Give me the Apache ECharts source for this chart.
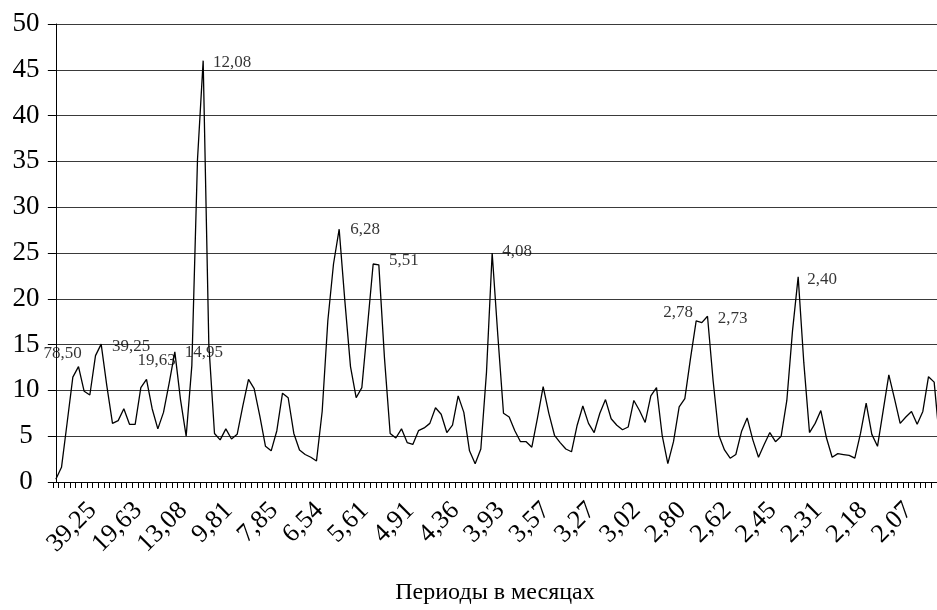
<!DOCTYPE html>
<html>
<head>
<meta charset="utf-8">
<script src="https://cdn.jsdelivr.net/npm/echarts@6/dist/echarts.min.js"></script>
<style>
  html, body { margin: 0; padding: 0; background: #fff; }
  #chart { width: 937px; height: 610px; }
</style>
</head>
<body>
<div id="chart"></div>
<script>
// Harmonic index k (period = 314 / k months); the axis shows k = 0 .. 155
const visibleHarmonics = 156;
const harmonics = Array.from({ length: visibleHarmonics }, (_, k) => String(k));

// Periodogram intensity for k = 0 .. 156 (the last one lies just past the right edge)
const intensity = [
  0.3, 1.6, 6.5, 11.45, 12.6, 9.9, 9.5, 13.8, 15.05, 10.5,
  6.4, 6.7, 8.0, 6.3, 6.3, 10.3, 11.2, 8.0, 5.8, 7.6,
  10.8, 14.2, 9.0, 5.0, 12.7, 35.2, 46.0, 15.0, 5.3, 4.6,
  5.8, 4.7, 5.2, 8.3, 11.2, 10.2, 7.2, 3.9, 3.4, 5.6,
  9.7, 9.2, 5.3, 3.5, 3.0, 2.7, 2.3, 7.7, 17.6, 23.8,
  27.6, 19.8, 12.6, 9.2, 10.3, 17.0, 23.8, 23.7, 13.5, 5.3,
  4.8, 5.8, 4.3, 4.1, 5.6, 5.9, 6.4, 8.1, 7.4, 5.4,
  6.2, 9.4, 7.6, 3.4, 2.0, 3.6, 12.0, 25.0, 16.0, 7.5,
  7.1, 5.6, 4.4, 4.4, 3.8, 7.0, 10.4, 7.5, 5.1, 4.3,
  3.6, 3.3, 6.2, 8.3, 6.4, 5.4, 7.5, 9.0, 6.9, 6.2,
  5.7, 6.0, 8.9, 7.8, 6.5, 9.4, 10.3, 5.1, 2.0, 4.4,
  8.2, 9.1, 13.5, 17.6, 17.4, 18.1, 11.0, 5.1, 3.5, 2.6,
  3.0, 5.5, 7.0, 4.6, 2.7, 4.1, 5.4, 4.4, 5.0, 8.9,
  16.5, 22.4, 13.0, 5.4, 6.4, 7.8, 4.8, 2.7, 3.1, 3.0,
  2.9, 2.6, 5.3, 8.6, 5.2, 3.9, 7.8, 11.7, 9.1, 6.4,
  7.1, 7.7, 6.3, 7.7, 11.5, 10.9, 4.2
];

// Axis tick labels (periods in months), one for every 8th harmonic starting at k = 8
const tickLabels = [
  '39,25', '19,63', '13,08', '9,81', '7,85', '6,54', '5,61', '4,91', '4,36', '3,93',
  '3,57', '3,27', '3,02', '2,80', '2,62', '2,45', '2,31', '2,18', '2,07'
];
const tickStep = 8;

// Annotated peaks: harmonic index and the period written next to it
const peakIndex = [4, 8, 16, 21, 26, 50, 57, 77, 113, 115, 131];
const peakText = ['78,50', '39,25', '19,63', '14,95', '12,08', '6,28', '5,51', '4,08', '2,78', '2,73', '2,40'];

// Label placement relative to its point, in pixels
const peakLabelOffset = [
  [-16, -13], [30, 2], [10, -19], [29, 1], [29, 2], [26, 0],
  [25, -4], [25, -1], [-18, -8], [25, 2], [24, 3]
];

const serif = '"Liberation Serif", "Times New Roman", serif';

const chart = echarts.init(document.getElementById('chart'), null, { renderer: 'canvas' });

chart.setOption({
  animation: false,
  backgroundColor: '#ffffff',
  grid: { left: 53, right: 0, top: 24, bottom: 126.7, containLabel: false },
  xAxis: [
    {
      // visible category axis: one tick per harmonic, a period label every 8th
      type: 'category',
      data: harmonics,
      boundaryGap: true,
      name: 'Периоды в месяцах',
      nameLocation: 'middle',
      nameGap: 99,
      nameTextStyle: { fontFamily: serif, fontSize: 24, color: '#000' },
      axisLine: { show: true, lineStyle: { color: '#000', width: 1 } },
      axisTick: { show: true, interval: 0, length: 6, inside: false, alignWithLabel: false, lineStyle: { color: '#000', width: 1 } },
      axisLabel: {
        interval: (idx) => idx > 0 && idx % tickStep === 0,
        formatter: (val, idx) => (idx > 0 && idx % tickStep === 0) ? (tickLabels[idx / tickStep - 1] || '') : '',
        rotate: 45,
        margin: 16,
        padding: [0, 12, 0, 0],
        fontFamily: serif,
        fontSize: 26,
        color: '#000'
      },
      splitLine: { show: false }
    },
    {
      // hidden numeric twin of the category axis, so the curve can run past the last category
      type: 'value',
      min: -0.5,
      max: visibleHarmonics - 0.5,
      show: false
    }
  ],
  yAxis: {
    type: 'value',
    min: 0,
    max: 50,
    interval: 5,
    axisLine: { show: true, lineStyle: { color: '#000', width: 1 } },
    axisTick: { show: true, length: 8, inside: false, lineStyle: { color: '#000', width: 1 } },
    axisLabel: { margin: 27, align: 'center', fontFamily: serif, fontSize: 27, color: '#000' },
    splitLine: { show: true, lineStyle: { color: '#3a3a3a', width: 1 } }
  },
  series: [
    {
      type: 'line',
      xAxisIndex: 1,
      data: intensity.map((v, k) => [k, v]),
      showSymbol: false,
      symbol: 'none',
      clip: true,
      lineStyle: { color: '#000', width: 1.3 },
      z: 3
    },
    {
      type: 'scatter',
      xAxisIndex: 1,
      data: peakIndex.map((k, i) => ({
        value: [k, intensity[k]],
        label: {
          show: true,
          formatter: peakText[i],
          position: 'inside',
          offset: peakLabelOffset[i],
          align: 'center',
          verticalAlign: 'middle',
          fontFamily: serif,
          fontSize: 17,
          color: '#000'
        }
      })),
      symbol: 'circle',
      symbolSize: 2,
      itemStyle: { color: 'rgba(0,0,0,0)' },
      silent: true,
      z: 4
    }
  ]
});
</script>
</body>
</html>
